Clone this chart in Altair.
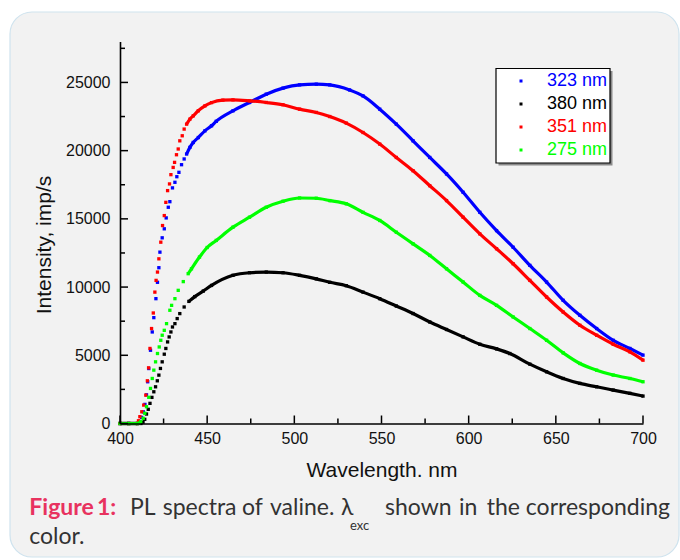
import altair as alt
import pandas as pd

# ---------------- data ----------------
SERIES = ["323 nm", "380 nm", "351 nm", "275 nm"]
COLORS = ["#0000ff", "#000000", "#ff0000", "#00ff00"]

wl_323 = [400, 405, 410, 411.2, 412.4, 413.4, 414.3, 415.2, 415.9, 416.5, 417.5, 418.5, 419.4, 420.6,
          421.5, 422.3, 422.9, 424.2, 425.4, 426.5, 427.7, 428.6, 430.1, 431.5, 432.6, 433.8, 435.3,
          436.8, 438.2, 440.1, 442.0, 444.9, 448.7, 452.5, 455.2, 464.8, 474.3, 483.9, 493.5, 503.0,
          512.6, 520.3, 531.7, 539.4, 549.0, 558.5, 568.1, 577.7, 587.3, 596.8, 606.4, 616.0, 625.5,
          635.1, 644.7, 654.2, 663.8, 673.4, 682.9, 692.5, 700]
int_323 = [0, 0, 0, 150, 450, 850, 1400, 2100, 3060, 4030, 5370, 6710, 7760, 9150,
           10350, 11420, 12560, 13610, 14270, 15070, 15850, 16260, 17270, 17680, 18090, 18410, 18970,
           19390, 19750, 20240, 20600, 20960, 21450, 21820, 22150, 22920, 23530, 24140, 24580, 24820,
           24870, 24820, 24450, 24010, 23040, 21940, 20720, 19500, 18290, 16950, 15480, 14140, 12920,
           11590, 10370, 9030, 7930, 6960, 6100, 5500, 5010]

wl_380 = [400, 405, 410, 412.0, 413.2, 414.2, 415.2, 416.2, 417.2, 418.3, 419.4, 420.4, 421.4, 422.3,
          423.2, 424.2, 425.4, 426.3, 427.3, 428.2, 429.2, 430.1, 431.5, 432.8, 434.3, 436.8, 439.5,
          442.9, 447.8, 452.5, 464.8, 474.3, 483.9, 493.5, 503.0, 512.6, 520.3, 529.8, 539.4, 549.0,
          558.5, 568.1, 577.7, 587.3, 596.8, 606.4, 616.0, 623.6, 635.1, 644.7, 654.2, 663.8, 673.4,
          682.9, 692.5, 700]
int_380 = [0, 0, 0, 0, 100, 307, 694, 1038, 1477, 1915, 2325, 2690, 3130, 3545,
           4035, 4520, 5080, 5500, 5980, 6345, 6710, 7075, 7320, 7690, 8055, 8540, 8950,
           9300, 9710, 10120, 10860, 11050, 11100, 11050, 10860, 10600, 10350, 10100, 9630, 9150,
           8610, 8060, 7440, 6890, 6350, 5810, 5470, 5130, 4350, 3790, 3300, 2940, 2690,
           2450, 2210, 2010]

wl_351 = [400, 405, 410, 410.6, 411.4, 412.5, 413.6, 414.8, 415.7, 416.4, 417.2, 418.1, 419.1, 420.0,
          420.7, 421.5, 422.3, 423.4, 424.4, 425.4, 426.3, 427.3, 428.4, 429.2, 430.5, 431.3, 432.4,
          433.4, 434.3, 435.7, 436.8, 438.2, 440.1, 442.0, 444.9, 448.7, 452.5, 459.0, 464.8, 474.3,
          483.9, 493.5, 503.0, 512.6, 520.3, 529.8, 539.4, 549.0, 558.5, 568.1, 577.7, 587.3, 596.8,
          606.4, 616.0, 625.5, 635.1, 644.7, 654.2, 663.8, 673.4, 682.9, 692.5, 700]
int_351 = [0, 0, 0, 200, 500, 860, 1350, 2080, 3130, 4080, 5500, 6960, 8100, 9630,
           10490, 11100, 12070, 13290, 14510, 15240, 16210, 17070, 17560, 18240, 18770, 19140, 19700,
           20120, 20720, 21090, 21580, 21940, 22310, 22550, 22920, 23280, 23520, 23700, 23720, 23650,
           23530, 23360, 23040, 22800, 22500, 22020, 21330, 20480, 19500, 18530, 17430, 16340, 15120,
           13900, 12810, 11710, 10490, 9270, 8170, 7200, 6470, 5810, 5250, 4640]

wl_275 = [400, 405, 410, 411.0, 411.9, 413.3, 414.2, 415.2, 416.5, 417.5, 418.5, 419.4, 420.4, 421.5,
          422.5, 423.4, 424.2, 425.4, 426.7, 428.6, 429.6, 431.5, 433.4, 436.3, 439.1, 441.0, 445.6,
          450.0, 455.2, 464.8, 474.3, 483.9, 493.5, 503.0, 512.6, 520.3, 529.8, 539.4, 549.0, 558.5,
          568.1, 577.7, 587.3, 596.8, 606.4, 616.0, 625.5, 635.1, 644.7, 654.2, 663.8, 673.4, 682.9,
          692.5, 700]
int_275 = [0, 0, 0, 40, 130, 380, 750, 1230, 1920, 2570, 3300, 3910, 4520, 5130,
           5610, 6100, 6470, 6830, 7320, 8300, 8660, 9150, 9760, 10400, 10980, 11340, 12200,
           12900, 13420, 14390, 15120, 15850, 16290, 16530, 16510, 16340, 16100, 15480, 14880, 14020,
           13170, 12320, 11340, 10370, 9390, 8660, 7810, 6960, 6100, 5180, 4400, 3910, 3550,
           3300, 3060]

X_TICKS = [400, 450, 500, 550, 600, 650, 700]
X_MINOR = [425, 475, 525, 575, 625, 675]
Y_TICKS = [0, 5000, 10000, 15000, 20000, 25000]
Y_MINOR = [2500, 7500, 12500, 17500, 22500, 27500]

X_TITLE = "Wavelength. nm"
Y_TITLE = "Intensity, imp/s"
CAPTION_LABEL = ["Figure", "1:"]
CAPTION_LINE1 = ["PL", "spectra", "of", "valine.", "λ", "shown", "in", "the", "corresponding"]
CAPTION_SUB = "exc"
CAPTION_LINE2 = "color."

# ---------------- layout ----------------
W, H = 523, 382
PAD_L, PAD_T = 120, 41.5
LINE_FROM = 438      # points merge into a continuous trace beyond this
BASE_TO = 410

series_data = [(wl_323, int_323), (wl_380, int_380), (wl_351, int_351), (wl_275, int_275)]

xscale = alt.Scale(domain=[400, 700], nice=False, zero=False)
yscale = alt.Scale(domain=[0, 28000], nice=False, zero=False)

AX_FONT = "Liberation Sans"
xaxis = alt.Axis(values=X_TICKS, ticks=False, grid=False, domainColor="black", domainWidth=1.6,
                 labelFont=AX_FONT, labelFontSize=16, labelColor="#111", labelPadding=7,
                 labelFlush=False, title=X_TITLE, titleFont=AX_FONT, titleFontSize=21,
                 titleFontWeight="normal", titleColor="#111", titleY=47, titleBaseline="middle",
                 zindex=2)
yaxis = alt.Axis(values=Y_TICKS, ticks=False, grid=False, domainColor="black", domainWidth=1.6,
                 labelFont=AX_FONT, labelFontSize=16, labelColor="#111", labelPadding=10,
                 format="d", labelFlush=False, title=Y_TITLE, titleFont=AX_FONT, titleFontSize=21,
                 titleFontWeight="normal", titleColor="#111", titleX=-76, titleY=203,
                 titleAngle=270, titleAlign="center", titleBaseline="middle", zindex=2)


def X(field):
    return alt.X(field, scale=xscale, axis=xaxis)


def Y(field):
    return alt.Y(field, scale=yscale, axis=yaxis)


one = pd.DataFrame({"k": [0]})
layers = []

# background panel (figure frame)
layers.append(alt.Chart(one).mark_rect(fill="#f2f2f2", stroke="#cfe3ee", strokeWidth=1.2,
                                       cornerRadius=22).encode(
    x=alt.value(10 - PAD_L), x2=alt.value(679 - PAD_L),
    y=alt.value(12 - PAD_T), y2=alt.value(557 - PAD_T)))

# series
for name, color, (wl, it) in zip(SERIES, COLORS, series_data):
    d = pd.DataFrame({"wl": wl, "I": it})
    d["seg"] = ["base" if w <= BASE_TO else ("main" if w >= LINE_FROM else "none") for w in wl]
    line = alt.Chart(d).transform_filter("datum.seg != 'none'").mark_line(
        color=color, strokeWidth=3.2, interpolate="monotone").encode(
        x=X("wl:Q"), y=Y("I:Q"), detail="seg:N")
    pts = alt.Chart(d).mark_square(size=11, color=color, opacity=1).encode(
        x=X("wl:Q"), y=Y("I:Q"))
    layers += [line, pts]

# inward ticks
layers.append(alt.Chart(pd.DataFrame({"wl": X_TICKS})).mark_rule(color="black", strokeWidth=1.5).encode(
    x=X("wl:Q"), y=alt.value(H), y2=alt.value(H - 8)))
layers.append(alt.Chart(pd.DataFrame({"wl": X_MINOR})).mark_rule(color="black", strokeWidth=1.5).encode(
    x=X("wl:Q"), y=alt.value(H), y2=alt.value(H - 5)))
layers.append(alt.Chart(pd.DataFrame({"I": Y_TICKS})).mark_rule(color="black", strokeWidth=1.5).encode(
    y=Y("I:Q"), x=alt.value(0), x2=alt.value(8)))
layers.append(alt.Chart(pd.DataFrame({"I": Y_MINOR})).mark_rule(color="black", strokeWidth=1.5).encode(
    y=Y("I:Q"), x=alt.value(0), x2=alt.value(5)))

# legend box
LX0, LX1, LY0, LY1 = 376, 490, 27, 121.5
layers.append(alt.Chart(one).mark_rect(fill="#8a8a8a").encode(
    x=alt.value(LX0 + 2.5), x2=alt.value(LX1 + 2.5), y=alt.value(LY0 + 2.5), y2=alt.value(LY1 + 2.5)))
layers.append(alt.Chart(one).mark_rect(fill="white", stroke="black", strokeWidth=1.2).encode(
    x=alt.value(LX0), x2=alt.value(LX1), y=alt.value(LY0), y2=alt.value(LY1)))
for j, (name, color) in enumerate(zip(SERIES, COLORS)):
    ry = 39.5 + 23 * j
    layers.append(alt.Chart(one).mark_square(size=9, color=color, opacity=1).encode(
        x=alt.value(401), y=alt.value(ry)))
    layers.append(alt.Chart(one).mark_text(text=name, color=color, font=AX_FONT, fontSize=18,
                                           align="left", baseline="middle").encode(
        x=alt.value(427), y=alt.value(ry)))

# caption
CAP_FONT = "Lato, Open Sans, DejaVu Sans"
CAP_BASE1 = 515 - PAD_T
CAP_BASE2 = 544 - PAD_T
CAP_COLOR = "#333333"
CAP_SIZE = 23
RED = "#e8325f"
for w, xx in zip(CAPTION_LABEL, [29.3, 97]):
    layers.append(alt.Chart(one).mark_text(text=w, color=RED, font=CAP_FONT, fontSize=CAP_SIZE,
                                           fontWeight="bold", align="left",
                                           baseline="alphabetic").encode(
        x=alt.value(xx - PAD_L), y=alt.value(CAP_BASE1)))
word_x = [130, 162.7, 242, 270, 341, 385, 459, 486.7, 670]
for w, xx in zip(CAPTION_LINE1, word_x):
    al = "right" if w == "corresponding" else "left"
    layers.append(alt.Chart(one).mark_text(text=w, color=CAP_COLOR, font=CAP_FONT, fontSize=CAP_SIZE,
                                           align=al, baseline="alphabetic").encode(
        x=alt.value(xx - PAD_L), y=alt.value(CAP_BASE1)))
layers.append(alt.Chart(one).mark_text(text=CAPTION_SUB, color=CAP_COLOR, font=CAP_FONT, fontSize=13,
                                       align="left", baseline="alphabetic").encode(
    x=alt.value(350 - PAD_L), y=alt.value(CAP_BASE1 + 15)))
layers.append(alt.Chart(one).mark_text(text=CAPTION_LINE2, color=CAP_COLOR, font=CAP_FONT,
                                       fontSize=CAP_SIZE, align="left", baseline="alphabetic").encode(
    x=alt.value(29.3 - PAD_L), y=alt.value(CAP_BASE2)))

chart = alt.layer(*layers).properties(
    width=W, height=H,
    autosize=alt.AutoSizeParams(type="none"),
    padding={"left": PAD_L, "top": PAD_T, "right": 680 - PAD_L - W, "bottom": 560 - PAD_T - H},
).configure(background="white").configure_view(stroke=None, fill=None)

chart.save("out.html", embed_options={"renderer": "svg", "actions": False})
